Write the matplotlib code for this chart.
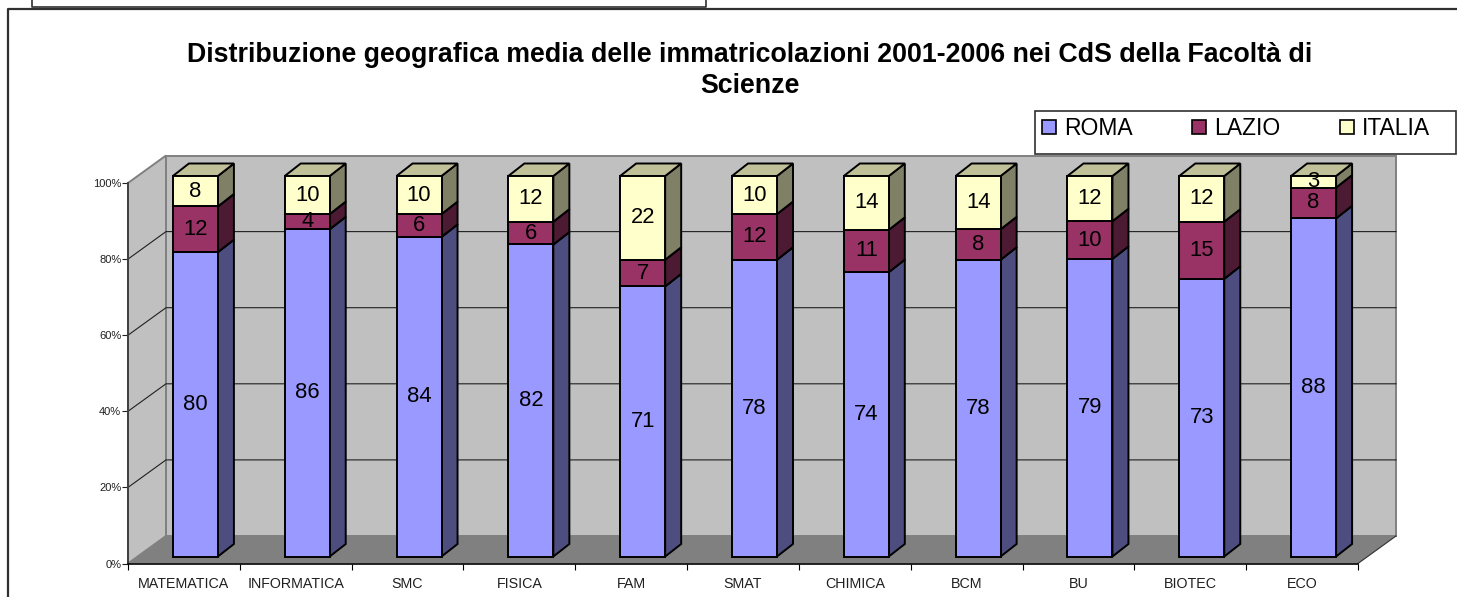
import matplotlib
matplotlib.use('Agg')
import matplotlib.pyplot as plt
from matplotlib.patches import Polygon, Rectangle, Patch
from matplotlib.lines import Line2D

plt.rcParams['font.family'] = ['Liberation Sans', 'DejaVu Sans']

categories = ['MATEMATICA', 'INFORMATICA', 'SMC', 'FISICA', 'FAM', 'SMAT',
              'CHIMICA', 'BCM', 'BU', 'BIOTEC', 'ECO']
roma = [80, 86, 84, 82, 71, 78, 74, 78, 79, 73, 88]
lazio = [12, 4, 6, 6, 7, 12, 11, 8, 10, 15, 8]
italia = [8, 10, 10, 12, 22, 10, 14, 14, 12, 12, 3]
y_ticks = [0, 20, 40, 60, 80, 100]
title = ('Distribuzione geografica media delle immatricolazioni 2001-2006 nei CdS della Facoltà di\n'
         'Scienze')

W, H = 1457, 597
fig = plt.figure(figsize=(W / 100, H / 100), dpi=100)

# axes sits on the front plane of the fake 3D box
x0, x1, y0, y1 = 128, 1358, 563.5, 183
ax = fig.add_axes([x0 / W, 1 - y0 / H, (x1 - x0) / W, (y0 - y1) / H])
ax.set_xlim(0, 11)
ax.set_ylim(0, 100)
ax.patch.set_visible(False)
px_x = 11 / (x1 - x0)
px_y = 100 / (y0 - y1)

back_dx, back_dy = 38 * px_x, 27.5 * px_y
bar_w = 45 * px_x
bar_dx, bar_dy = 16 * px_x, 12.5 * px_y
shift_x, shift_y = 11.5 * px_x, 7 * px_y

def poly(ax, pts, fc, ec='none', lw=0, z=1):
    ax.add_patch(Polygon(pts, closed=True, facecolor=fc, edgecolor=ec, linewidth=lw,
                         zorder=z, clip_on=False, joinstyle='miter'))

# walls and floor
poly(ax, [(0, 0), (back_dx, back_dy), (back_dx, 100 + back_dy), (0, 100)], '#C0C0C0', '#808080', 1.4)
poly(ax, [(back_dx, back_dy), (11 + back_dx, back_dy), (11 + back_dx, 100 + back_dy), (back_dx, 100 + back_dy)],
     '#C0C0C0', '#808080', 1.4)
poly(ax, [(0, 0), (11, 0), (11 + back_dx, back_dy), (back_dx, back_dy)], '#808080', z=1.5)
ax.add_line(Line2D([11, 11 + back_dx], [0, back_dy], color='#303030', lw=0.8, zorder=1.6, clip_on=False))

# gridlines on both walls
for t in y_ticks[1:-1]:
    ax.plot([0, back_dx, 11 + back_dx], [t, t + back_dy, t + back_dy], color='#202020', lw=0.8,
            zorder=2, clip_on=False)

series = [(roma, '#9999FF', '#4D4D80', '#73739A'),
          (lazio, '#993366', '#4D1A33', '#73264D'),
          (italia, '#FFFFCC', '#808066', '#C0C099')]
edge = 'black'
elw = 1.4

for i in range(len(categories)):
    total = roma[i] + lazio[i] + italia[i]
    left = i + 0.5 + shift_x - bar_w / 2
    right = left + bar_w
    bottom = 0
    for vals, front, side, top in series:
        h = vals[i] / total * 100
        b = bottom + shift_y
        t = b + h
        z = 3 + i * 0.01
        poly(ax, [(right, b), (right + bar_dx, b + bar_dy), (right + bar_dx, t + bar_dy), (right, t)],
             side, edge, elw, z)
        poly(ax, [(left, t), (right, t), (right + bar_dx, t + bar_dy), (left + bar_dx, t + bar_dy)],
             top, edge, elw, z)
        poly(ax, [(left, b), (right, b), (right, t), (left, t)], front, edge, elw, z)
        ax.text((left + right) / 2, b + h / 2, str(vals[i]), ha='center', va='center',
                fontsize=15.8, color='black', zorder=4)
        bottom += h

# axes
for s in ['top', 'right']:
    ax.spines[s].set_visible(False)
ax.spines['left'].set_color('#404040')
ax.spines['left'].set_linewidth(1.4)
ax.spines['left'].set_zorder(2.5)
ax.spines['bottom'].set_color('black')
ax.spines['bottom'].set_linewidth(1.2)
ax.spines['bottom'].set_zorder(2.5)
ax.set_yticks(y_ticks)
ax.set_yticklabels([f'{t}%' for t in y_ticks], fontsize=8, color='#202020')
ax.tick_params(axis='y', length=4.3, width=0.8, pad=0.5, color='#202020')
ax.set_xticks(range(len(categories) + 1))
ax.set_xticklabels([])
ax.tick_params(axis='x', which='major', length=4.3, width=0.8, color='black')
ax.set_xticks([i + 0.5 for i in range(len(categories))], minor=True)
ax.set_xticklabels(categories, minor=True, fontsize=10.3, color='#202020')
ax.tick_params(axis='x', which='minor', length=0, pad=10)

# chart frame and the box cut off at the top
frame = '#303030'
fig.add_artist(Line2D([8 / W, 8 / W, 1], [0, 1 - 9 / H, 1 - 9 / H], color=frame, lw=1.6))
fig.add_artist(Line2D([32 / W, 32 / W, 706 / W, 706 / W], [1, 1 - 7 / H, 1 - 7 / H, 1], color=frame, lw=1.2))

fig.text(750 / W, 1 - 70.5 / H, title, ha='center', va='center', fontsize=19.3, fontweight='bold',
         color='black', linespacing=1.25)

# legend
fig.add_artist(Rectangle((1035 / W, 1 - 154 / H), 421 / W, 43 / H, transform=fig.transFigure,
                         facecolor='white', edgecolor=frame, linewidth=1.2, zorder=5))
handles = [Patch(facecolor=s[1], edgecolor='black', linewidth=1.2) for s in series]
leg = fig.legend(handles, ['ROMA', 'LAZIO', 'ITALIA'], loc='center',
                 bbox_to_anchor=(1236 / W, 1 - 128.5 / H), ncols=3, frameon=False, fontsize=16.5,
                 handlelength=0.61, handleheight=0.61, handletextpad=0.35, columnspacing=2.6)
leg.set_zorder(6)

fig.savefig('out.png', dpi=100)
